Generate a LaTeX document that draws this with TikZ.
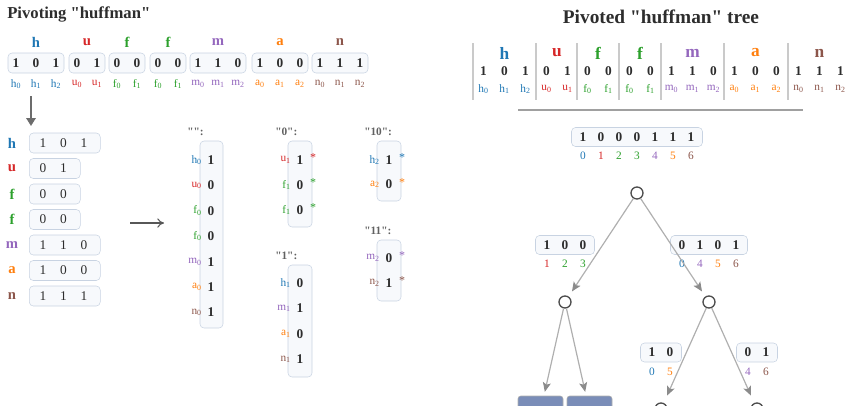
\documentclass[tikz,border=0pt]{standalone}
\usepackage{fontspec}
\setmainfont{Liberation Serif}[Ligatures=TeXOff]
\usetikzlibrary{positioning,arrows.meta}
\definecolor{ch}{RGB}{31,119,180}
\definecolor{cu}{RGB}{214,39,40}
\definecolor{cf}{RGB}{44,160,44}
\definecolor{cm}{RGB}{148,103,189}
\definecolor{ca}{RGB}{255,127,14}
\definecolor{cn}{RGB}{140,86,75}
\definecolor{ink}{RGB}{45,45,45}
\definecolor{cbox}{RGB}{200,211,226}
\definecolor{cfill}{RGB}{247,249,252}
\definecolor{cedge}{RGB}{175,175,175}
\definecolor{cleaf}{RGB}{122,141,184}

\begin{document}
\begin{tikzpicture}[
  x=0.75pt,y=-0.75pt,
  text=ink,
  wh/.style 2 args={minimum width=(#1)*0.75pt,minimum height=(#2)*0.75pt},
  ttl/.style={font=\bfseries\fontsize{12.5}{14}\selectfont,anchor=west,inner sep=0pt},
  bits/.style={draw=cbox,fill=cfill,rounded corners=3pt,inner sep=0pt},
  bit/.style={font=\bfseries\fontsize{10}{12}\selectfont,inner sep=0pt},
  rbit/.style={font=\fontsize{10}{12}\selectfont,inner sep=0pt},
  chr/.style={font=\bfseries\fontsize{11}{13}\selectfont,inner sep=0pt},
  bigchr/.style={font=\bfseries\fontsize{13}{15}\selectfont,inner sep=0pt},
  idx/.style={font=\fontsize{8.5}{10}\selectfont,inner sep=0pt},
  key/.style={font=\bfseries\fontsize{8.5}{10}\selectfont,text=ink!75,inner sep=0pt,anchor=west},
  star/.style={font=\fontsize{9}{10}\selectfont,inner sep=0pt},
  rule/.style={draw=ink!25,line width=0.8pt},
  vert/.style={draw=ink!85,circle,line width=1pt,fill=white,minimum size=9pt,inner sep=0pt},
  leaf/.style={draw=cedge,fill=cleaf,rounded corners=2pt,wh={45}{30}},
  edge/.style={draw=cedge,line width=0.9pt,shorten >=4.5pt,
    -{Stealth[length=7pt,width=6pt,inset=1.5pt,color=ink!55]}},
]
\clip (0,0) rectangle (857,405);

% --- left: pivoting the word ---
\node[ttl] (t1) at (7,14) {Pivoting "huffman"};
\foreach \w/\col/\s/\n/\bs [count=\g] in {h/ch/16/3/{1,0,1},u/cu/77/2/{0,1},f/cf/117/2/{0,0},
    f/cf/158/2/{0,0},m/cm/198/3/{1,1,0},a/ca/260/3/{1,0,0},n/cn/320/3/{1,1,1}}{
  \node[bits,wh={20*\n-4}{20}] (g\g) at (\s+10*\n-10,63) {};
  \node[chr,text=\col] (l\g) at (\s+10*\n-10,42) {\w};
  \foreach \val [count=\kk from 0] in \bs {
    \node[bit] (g\g-\kk) at (\s+20*\kk,63) {\val};
    \node[idx,text=\col] (i\g-\kk) at (\s+20*\kk,84) {\w\textsubscript{\kk}};
  }
}
\coordinate (d0) at (31,96);
\coordinate (d1) at (31,126);
\draw[line width=1.5pt,ink!70,-{Triangle[length=6pt,width=7pt]}] (d0) -- (d1);

% one row per letter
\foreach \w/\col/\n/\bs [count=\g from 0] in {h/ch/3/{1,0,1},u/cu/2/{0,1},f/cf/2/{0,0},
    f/cf/2/{0,0},m/cm/3/{1,1,0},a/ca/3/{1,0,0},n/cn/3/{1,1,1}}{
  \node[chr,text=\col] (r\g) at (12,143+25.5*\g) {\w};
  \node[bits,anchor=west,wh={20*\n+11}{20}] (rb\g) at (29,143+25.5*\g) {};
  \foreach \val [count=\kk from 0] in \bs
    \node[rbit] (rb\g-\kk) at (43+20.5*\kk,143+25.5*\g) {\val};
}
\coordinate (a0) at (130,223);
\coordinate (a1) at (164,223);
\draw[ink!80,line width=0.8pt,-{To[length=5pt,width=7pt]}] (a0) -- (a1);

% columns keyed by prefix
\node[key] (k0) at (187,132) {"":};
\node[bits,wh={23}{187}] (c0) at (211.5,234.5) {};
\foreach \w/\col/\val [count=\kk from 0] in {h/ch/1,u/cu/0,f/cf/0,f/cf/0,m/cm/1,a/ca/1,n/cn/1}{
  \node[bit] (c0-\kk) at (211,160+25.4*\kk) {\val};
  \node[idx,text=\col,left=4pt of c0-\kk] {\w\textsubscript{0}};
}
\node[key] (k1) at (275,132) {"0":};
\node[bits,wh={24}{86}] (c1) at (300,184) {};
\foreach \w/\col/\val [count=\kk from 0] in {u/cu/1,f/cf/0,f/cf/0}{
  \node[bit] (c1-\kk) at (300,160+25*\kk) {\val};
  \node[idx,text=\col,left=4pt of c1-\kk] {\w\textsubscript{1}};
  \node[star,text=\col] at ([shift={(13,-2)}]c1-\kk.center) {*};
}
\node[key] (k2) at (275,256) {"1":};
\node[bits,wh={24}{112}] (c2) at (300,321) {};
\foreach \w/\col/\val [count=\kk from 0] in {h/ch/0,m/cm/1,a/ca/0,n/cn/1}{
  \node[bit] (c2-\kk) at (300,283+25.5*\kk) {\val};
  \node[idx,text=\col,left=4pt of c2-\kk] {\w\textsubscript{1}};
}
\node[key] (k3) at (364,132) {"10":};
\node[bits,wh={24}{60}] (c3) at (389,171) {};
\foreach \w/\col/\val [count=\kk from 0] in {h/ch/1,a/ca/0}{
  \node[bit] (c3-\kk) at (389,160+24.5*\kk) {\val};
  \node[idx,text=\col,left=4pt of c3-\kk] {\w\textsubscript{2}};
  \node[star,text=\col] at ([shift={(13,-2)}]c3-\kk.center) {*};
}
\node[key] (k4) at (364,231) {"11":};
\node[bits,wh={24}{61}] (c4) at (389,270.5) {};
\foreach \w/\col/\val [count=\kk from 0] in {m/cm/0,n/cn/1}{
  \node[bit] (c4-\kk) at (389,258+25*\kk) {\val};
  \node[idx,text=\col,left=4pt of c4-\kk] {\w\textsubscript{2}};
  \node[star,text=\col] at ([shift={(13,-2)}]c4-\kk.center) {*};
}

% --- right: the pivoted tree ---
\node[font=\bfseries\fontsize{14.5}{16}\selectfont,inner sep=0pt] (t2) at (661,17) {Pivoted "huffman" tree};
\foreach \w/\col/\s/\n/\bs [count=\g] in {h/ch/473/3/{1,0,1},u/cu/536/2/{0,1},f/cf/577/2/{0,0},
    f/cf/619/2/{0,0},m/cm/661/3/{1,1,0},a/ca/724/3/{1,0,0},n/cn/788/3/{1,1,1}}{
  \draw[rule] (\s,43) -- (\s,100);
  \node[bigchr,text=\col] (h\g) at (\s+10.5*\n,53) {\w};
  \foreach \val [count=\kk from 0] in \bs {
    \node[bit] (h\g-\kk) at (\s+10.5+21*\kk,71) {\val};
    \node[idx,text=\col] (j\g-\kk) at (\s+10.5+21*\kk,89) {\w\textsubscript{\kk}};
  }
}
\draw[ink!45,line width=1.5pt] (518,110) -- (803,110);

% bit strings kept at each node / edge
\foreach \nm/\x/\y/\n/\ds in {rt/583/137/7/{1/ch/0,0/cu/1,0/cf/2,0/cf/3,1/cm/4,1/ca/5,1/cn/6},
    ea/547/245/3/{1/cu/1,0/cf/2,0/cf/3},eb/682/245/4/{0/ch/0,1/cm/4,0/ca/5,1/cn/6},
    ec/652/352.5/2/{1/ch/0,0/ca/5},ed/748/352.5/2/{0/cm/4,1/cn/6}}{
  \node[bits,wh={18*\n+5}{19}] (\nm) at (\x+9*\n-9,\y) {};
  \foreach \val/\col/\ix [count=\kk from 0] in \ds {
    \node[bit] (\nm-\kk) at (\x+18*\kk,\y) {\val};
    \node[idx,text=\col] (\nm-i\kk) at (\x+18*\kk,\y+19) {\ix};
  }
}
\node[vert] (v0) at (637,193) {};
\node[vert] (v1) at (565,302) {};
\node[vert] (v2) at (709,302) {};
\node[vert] (v3) at (661,409) {};
\node[vert] (v4) at (757,409) {};
\node[leaf] (f1) at (540.5,411) {};
\node[leaf] (f2) at (589.5,411) {};
\draw[edge] (v0) -- (v1);
\draw[edge] (v0) -- (v2);
\draw[edge,shorten >=3pt] (v1) -- (f1);
\draw[edge,shorten >=3pt] (v1) -- (f2);
\draw[edge,shorten >=6pt] (v2) -- (v3);
\draw[edge,shorten >=6pt] (v2) -- (v4);
\end{tikzpicture}
\end{document}
